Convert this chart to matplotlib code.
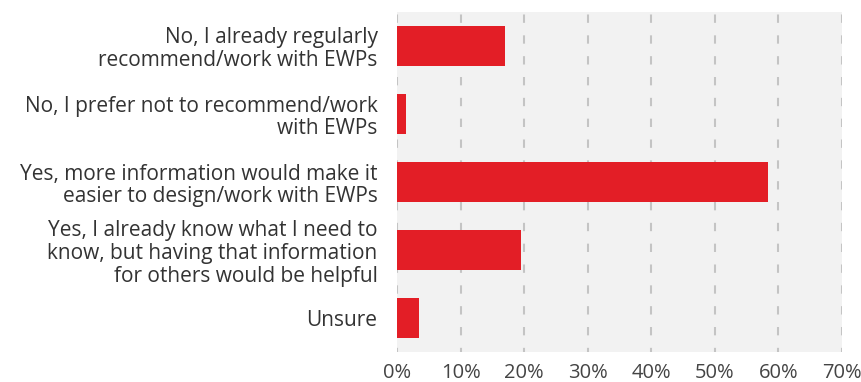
import matplotlib.pyplot as plt

# Data
answers = [
    'No, I already regularly\nrecommend/work with EWPs',
    'No, I prefer not to recommend/work\nwith EWPs',
    'Yes, more information would make it\neasier to design/work with EWPs',
    'Yes, I already know what I need to\nknow, but having that information\nfor others would be helpful',
    'Unsure',
]
shares = [17.0, 1.4, 58.3, 19.5, 3.5]  # percent of respondents
ticks = [0, 10, 20, 30, 40, 50, 60, 70]

plt.rcParams['font.family'] = ['Open Sans', 'DejaVu Sans']

fig = plt.figure(figsize=(8.62, 3.82), dpi=100)
ax = fig.add_axes([0.4606, 0.0785, 0.5162, 0.8901])
ax.set_facecolor('#f2f2f2')

ypos = list(range(len(answers)))
ax.barh(ypos, shares, height=0.58, color='#e31e26', zorder=3)

ax.set_xlim(0, 70)
ax.set_ylim(len(answers) - 0.5, -0.5)
ax.set_yticks(ypos)
ax.set_yticklabels(answers, fontsize=15, color='#333333', linespacing=1.12)
ax.set_xticks(ticks)
ax.set_xticklabels([f'{t}%' for t in ticks], fontsize=14.5, color='#444444')
ax.tick_params(length=0)
ax.tick_params(axis='y', pad=14)
ax.tick_params(axis='x', pad=8)

# dashed vertical grid lines
ax.grid(axis='x', color='#c4c4c4', linewidth=1.5, linestyle=(2, (4, 6)), zorder=1)
ax.set_axisbelow(True)
for s in ax.spines.values():
    s.set_visible(False)

plt.savefig('out.png', dpi=100)
